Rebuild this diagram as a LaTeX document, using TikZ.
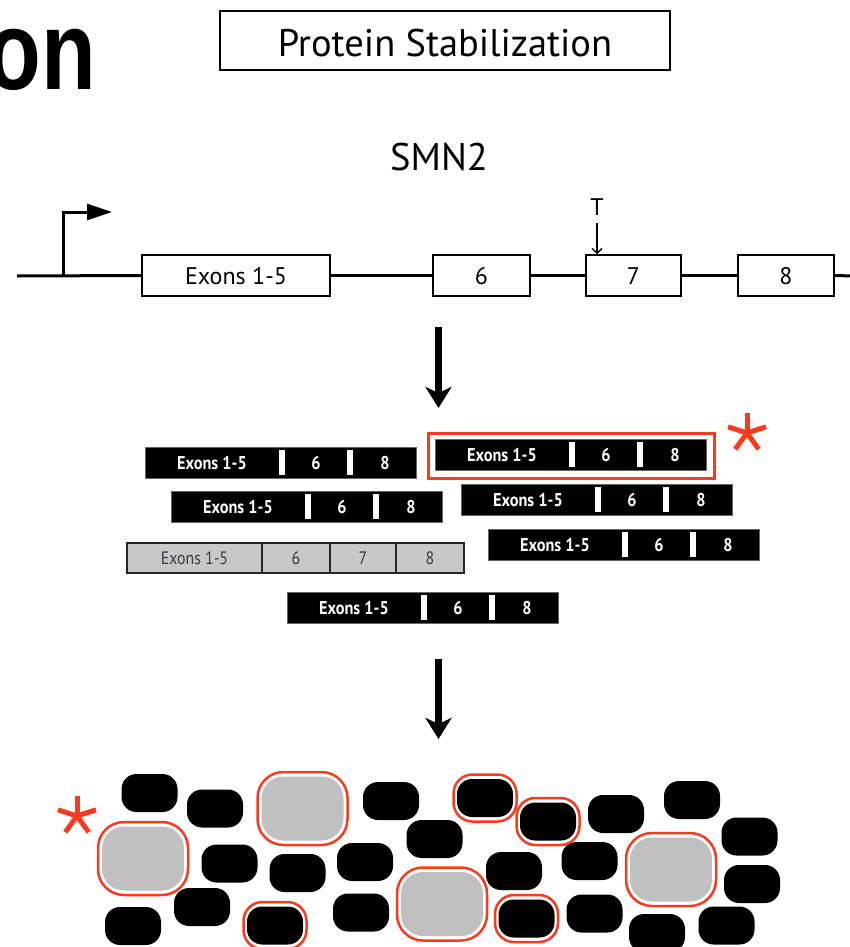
\documentclass[tikz,border=0pt]{standalone}
\usepackage{fontspec}
\setmainfont{PT Sans}
\newfontfamily\heavyfont[FakeStretch=0.8]{Liberation Sans}
\newfontfamily\barfont[FakeStretch=0.88]{PT Sans}
\usetikzlibrary{arrows.meta}

\definecolor{ringred}{RGB}{250,58,28}
\definecolor{blobgray}{RGB}{192,192,192}
\definecolor{bargray}{RGB}{200,200,200}
\definecolor{bartextgray}{RGB}{55,55,72}

% spliced transcript lacking exon 7: left x, top y
\newcommand\splicedbar[3]{%
  \node[barbody] (#1) at (#2+135.5,#3+15.5) {};
  \fill[white] (#2+134,#3+3) rectangle (#2+140,#3+28);
  \fill[white] (#2+202,#3+3) rectangle (#2+208,#3+28);
  \node[bartext] (#1-a) at (#2+67,#3+15.5) {Exons 1-5};
  \node[bartext] (#1-b) at (#2+171,#3+15.5) {6};
  \node[bartext] (#1-c) at (#2+240,#3+15.5) {8};
}

\begin{document}
\begin{tikzpicture}[x=1pt,y=-1pt,
  genebox/.style={draw, line width=1.5pt, minimum height=41pt, inner sep=0pt,
    font=\fontsize{24}{24}\selectfont, text height=17pt, text depth=0pt},
  strand/.style={line width=3pt},
  flow/.style={line width=7pt, -{Stealth[length=21pt, width=26pt, inset=6pt]}},
  barbody/.style={fill=black, draw=black!60, line width=0.8pt,
    minimum width=271pt, minimum height=31pt, inner sep=0pt},
  bartext/.style={text=white, font=\barfont\bfseries\fontsize{18.5}{18.5}\selectfont,
    text height=13pt, text depth=0pt, inner sep=0pt},
  graytext/.style={text=bartextgray, font=\barfont\fontsize{18}{18}\selectfont,
    text height=12pt, text depth=0pt, inner sep=0pt},
  blob/.style={fill=black, rounded corners=15pt, minimum width=56pt,
    minimum height=38pt, inner sep=0pt},
  bigblob/.style={fill=blobgray, rounded corners=22pt, minimum width=82pt,
    minimum height=64pt, inner sep=0pt},
  smallring/.style={draw=ringred, line width=2.5pt, rounded corners=19pt,
    minimum width=63pt, minimum height=47pt, inner sep=0pt},
  bigring/.style={draw=ringred, line width=2.5pt, rounded corners=26pt,
    minimum width=90pt, minimum height=73pt, inner sep=0pt},
  star5/.pic={\foreach \a in {90,18,162,-54,-126}
    \draw[ringred, line width=5pt] (0,0) -- (\a:20pt);}
]
\useasboundingbox (0,0) rectangle (850,947);
\begin{scope}
\clip (0,0) rectangle (850,947);

% heading fragment and title
\node[font=\heavyfont\bfseries\fontsize{112}{112}\selectfont, anchor=base east,
  inner sep=0pt] (heading) at (96,90) {on};
\node[draw, line width=2.5pt, minimum width=450pt, minimum height=59pt,
  inner sep=0pt] (title) at (445,40.5) {};
\node[font=\fontsize{38.5}{38.5}\selectfont, anchor=base, inner sep=0pt]
  (titletext) at (445,57) {Protein Stabilization};

% gene
\node[font=\fontsize{38.5}{38.5}\selectfont, anchor=base, inner sep=0pt]
  (gene) at (439,170) {SMN2};
\node[genebox, minimum width=188pt] (ex15) at (236,275.5) {Exons 1-5};
\node[genebox, minimum width=97pt] (ex6) at (481.5,275.5) {6};
\node[genebox, minimum width=95pt] (ex7) at (633.5,275.5) {7};
\node[genebox, minimum width=96pt] (ex8) at (786,275.5) {8};
\coordinate (dnastart) at (17,276);
\coordinate (dnaend) at (852,276);
\coordinate (tss) at (63,276);
\coordinate (tssend) at (112,212);
\draw[strand] (dnastart) -- (ex15.west);
\draw[strand] (ex15.east) -- (ex6.west);
\draw[strand] (ex6.east) -- (ex7.west);
\draw[strand] (ex7.east) -- (ex8.west);
\draw[strand] (ex8.east) -- (dnaend);
\draw[line width=3pt, -{Triangle[length=25pt, width=16pt]}] (tss) |- (tssend);

% C-to-T change in exon 7
\node[font=\fontsize{24}{24}\selectfont, text height=17pt, text depth=0pt,
  inner sep=0pt] (tmut) at (597,206.5) {T};
\draw[line width=1.3pt, -{Straight Barb[length=5pt, width=10pt]}]
  ([yshift=-8pt]tmut.south) -- (tmut.south |- ex7.north);

% splicing arrow
\coordinate (f1a) at (438.5,327);
\coordinate (f1b) at (438.5,408);
\draw[flow] (f1a) -- (f1b);

% transcripts
\splicedbar{mA}{145}{447}
\splicedbar{mB}{171}{491}
\splicedbar{mC}{435}{439}
\splicedbar{mD}{461}{484}
\splicedbar{mE}{488}{529}
\splicedbar{mF}{287}{592}
\node[draw=ringred, line width=3pt, minimum width=286pt, minimum height=45pt,
  inner sep=0pt] (pick) at (571.5,456) {};
\pic (astA) at (747,433) {star5};

% full-length transcript
\node[fill=bargray, draw=black!85, line width=1.5pt, minimum width=337pt,
  minimum height=30pt, inner sep=0pt] (full) at (295.5,558) {};
\draw[line width=1.5pt, black!85] (262,543) -- (262,573);
\draw[line width=1.5pt, black!85] (330,543) -- (330,573);
\draw[line width=1.5pt, black!85] (396,543) -- (396,573);
\node[graytext] (full-a) at (194.5,558) {Exons 1-5};
\node[graytext] (full-b) at (296,558) {6};
\node[graytext] (full-c) at (363,558) {7};
\node[graytext] (full-d) at (430,558) {8};

% translation arrow
\coordinate (f2a) at (438.5,659);
\coordinate (f2b) at (438.5,739);
\draw[flow] (f2a) -- (f2b);

% protein pool
\node[blob] (p1) at (149.5,793) {};
\node[blob] (p2) at (215,808.5) {};
\node[blob] (p3) at (391,801) {};
\node[blob] (p4) at (434.5,839) {};
\node[blob] (p5) at (229.5,863.5) {};
\node[blob] (p6) at (297.5,873) {};
\node[blob] (p7) at (365,862) {};
\node[blob] (p8) at (202,907) {};
\node[blob] (p9) at (133,926) {};
\node[blob] (p10) at (361,912.5) {};
\node[blob] (p11) at (616,814) {};
\node[blob] (p12) at (692,800) {};
\node[blob] (p13) at (749.5,836.5) {};
\node[blob] (p14) at (514,871) {};
\node[blob] (p15) at (589.5,861) {};
\node[blob] (p16) at (752,884) {};
\node[blob] (p17) at (594.5,913.5) {};
\node[blob] (p18) at (657,933) {};
\node[blob] (p19) at (726.5,925.5) {};

% truncated proteins that are stabilised
\node[blob] (s1) at (485,798) {};
\node[smallring] (s1r) at (s1) {};
\node[blob] (s2) at (548,821.5) {};
\node[smallring] (s2r) at (s2) {};
\node[blob] (s3) at (275,925.5) {};
\node[smallring] (s3r) at (s3) {};
\node[blob] (s4) at (526.5,918.5) {};
\node[smallring] (s4r) at (s4) {};

% full-length proteins
\node[bigblob] (g1) at (302.5,808.5) {};
\node[bigring] (g1r) at (g1) {};
\node[bigblob] (g2) at (143,858.5) {};
\node[bigring] (g2r) at (g2) {};
\node[bigblob] (g3) at (442,904) {};
\node[bigring] (g3r) at (g3) {};
\node[bigblob] (g4) at (671,869.5) {};
\node[bigring] (g4r) at (g4) {};

\pic (astB) at (77,816) {star5};
\end{scope}
\end{tikzpicture}
\end{document}
